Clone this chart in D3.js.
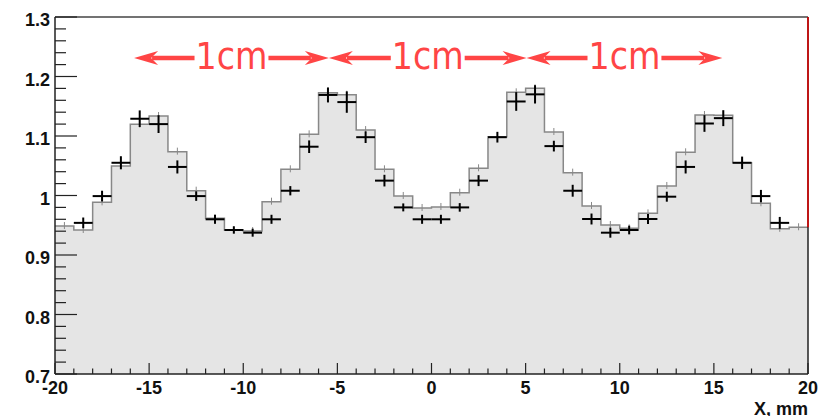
<!DOCTYPE html>
<html>
<head>
<meta charset="utf-8">
<script src="https://cdn.jsdelivr.net/npm/d3@7"></script>
<style>
body { margin: 0; background: #fff; }
svg { display: block; }
</style>
</head>
<body>
<div id="chart"></div>
<script>
// histogram contents, one value per 1 mm bin from -20 to 20
const histValues = [0.9487, 0.942, 0.9885, 1.0496, 1.1196, 1.1336, 1.0737, 1.0081, 0.9616, 0.942,
  0.9403, 0.9896, 1.044, 1.1028, 1.1728, 1.1694, 1.11, 1.044, 0.9992, 0.979,
  0.9807, 1.0047, 1.0457, 1.0989, 1.1734, 1.1802, 1.1067, 1.0384, 0.9824, 0.9504,
  0.9448, 0.970, 1.016, 1.0726, 1.1353, 1.135, 1.0551, 0.9869, 0.944, 0.9466];

// measured points (crosses)
const pointX = [-18.5, -17.5, -16.5, -15.5, -14.5, -13.5, -12.5, -11.5, -10.5, -9.5,
  -8.5, -7.5, -6.5, -5.5, -4.5, -3.5, -2.5, -1.5, -0.5, 0.5,
  1.5, 2.5, 3.5, 4.5, 5.5, 6.5, 7.5, 8.5, 9.5, 10.5,
  11.5, 12.5, 13.5, 14.5, 15.5, 16.5, 17.5, 18.5];
const pointY = [0.954, 0.999, 1.055, 1.129, 1.120, 1.048, 0.999, 0.960, 0.942, 0.9375,
  0.960, 1.008, 1.082, 1.169, 1.157, 1.098, 1.025, 0.980, 0.960, 0.960,
  0.980, 1.025, 1.098, 1.158, 1.170, 1.083, 1.008, 0.9605, 0.9375, 0.942,
  0.9605, 0.998, 1.048, 1.121, 1.130, 1.055, 0.999, 0.954];
const pointErr = [0.009, 0.009, 0.011, 0.014, 0.015, 0.011, 0.008, 0.0076, 0.0062, 0.0067,
  0.0076, 0.0078, 0.0106, 0.0126, 0.018, 0.0098, 0.0098, 0.0067, 0.0076, 0.0076,
  0.0072, 0.0092, 0.009, 0.0157, 0.0154, 0.009, 0.010, 0.0092, 0.0084, 0.0073,
  0.0084, 0.0084, 0.011, 0.014, 0.0134, 0.0104, 0.0104, 0.010];

// "1cm" arrows: end points in mm
const arrowEnds = [-15.8, -5.45, 5.05, 15.45];
const arrowLabel = "1cm";
const arrowLevel = 1.231;

const xTicks = [-20, -15, -10, -5, 0, 5, 10, 15, 20];
const yTicks = [0.7, 0.8, 0.9, 1, 1.1, 1.2, 1.3];
const xTitle = "X, mm";

const width = 830, height = 416;
const margin = {top: 17, right: 22, bottom: 42, left: 55};
const binWidth = 1;

const svg = d3.select("#chart").append("svg")
  .attr("width", width)
  .attr("height", height);

const x = d3.scaleLinear().domain([-20, 20]).range([margin.left, width - margin.right]);
const y = d3.scaleLinear().domain([0.7, 1.3]).range([height - margin.bottom, margin.top]);

const red = "#ff4545";

// histogram
const edges = histValues.map(function(v, i) { return {x: -20 + i * binWidth, v: v}; });
edges.push({x: 20, v: histValues[histValues.length - 1]});

svg.append("path")
  .datum(edges)
  .attr("fill", "#e5e5e5")
  .attr("d", d3.area().curve(d3.curveStepAfter)
    .x(function(d) { return x(d.x); })
    .y0(y(0.7))
    .y1(function(d) { return y(d.v); }));

svg.append("path")
  .datum(edges)
  .attr("fill", "none")
  .attr("stroke", "#888")
  .attr("stroke-width", 1.5)
  .attr("d", d3.line().curve(d3.curveStepAfter)
    .x(function(d) { return x(d.x); })
    .y(function(d) { return y(d.v); }));

// small histogram error ticks
svg.append("g").selectAll("line")
  .data(histValues).enter().append("line")
  .attr("x1", function(d, i) { return x(-20 + (i + 0.5) * binWidth); })
  .attr("x2", function(d, i) { return x(-20 + (i + 0.5) * binWidth); })
  .attr("y1", function(d) { return y(d) - 4; })
  .attr("y2", function(d) { return y(d) + 3; })
  .attr("stroke", "#888")
  .attr("stroke-width", 1);

// frame top + right
svg.append("line")
  .attr("x1", x(-20)).attr("x2", x(20))
  .attr("y1", y(1.3)).attr("y2", y(1.3))
  .attr("stroke", "#444").attr("stroke-width", 1.5);
svg.append("line")
  .attr("x1", x(20)).attr("x2", x(20))
  .attr("y1", y(1.3)).attr("y2", y(0.7))
  .attr("stroke", "#222").attr("stroke-width", 1.5);

// axes (ticks pointing inside, ROOT style)
const xMinor = d3.range(-20, 21, 1).filter(function(v) { return v % 5 !== 0; });
const yMinor = d3.range(0.7, 1.3001, 0.02).filter(function(v) { return Math.abs(v * 10 - Math.round(v * 10)) > 0.01; });

const xAxisG = svg.append("g");
xAxisG.append("line")
  .attr("x1", x(-20)).attr("x2", x(20))
  .attr("y1", y(0.7)).attr("y2", y(0.7))
  .attr("stroke", "#222").attr("stroke-width", 1.5);
xAxisG.selectAll(".major").data(xTicks).enter().append("line")
  .attr("x1", function(d) { return x(d); }).attr("x2", function(d) { return x(d); })
  .attr("y1", y(0.7)).attr("y2", y(0.7) - 11)
  .attr("stroke", "#222").attr("stroke-width", 1.2);
xAxisG.selectAll(".minor").data(xMinor).enter().append("line")
  .attr("x1", function(d) { return x(d); }).attr("x2", function(d) { return x(d); })
  .attr("y1", y(0.7)).attr("y2", y(0.7) - 5.5)
  .attr("stroke", "#222").attr("stroke-width", 1.2);
xAxisG.selectAll("text").data(xTicks).enter().append("text")
  .attr("x", function(d) { return x(d); })
  .attr("y", y(0.7) + 19.5)
  .attr("text-anchor", "middle")
  .style("font-family", "'Liberation Sans', Arial, sans-serif")
  .style("font-weight", "bold")
  .style("font-size", "18px")
  .style("fill", "#111")
  .text(function(d) { return d; });

const yAxisG = svg.append("g");
yAxisG.append("line")
  .attr("x1", x(-20)).attr("x2", x(-20))
  .attr("y1", y(0.7)).attr("y2", y(1.3))
  .attr("stroke", "#222").attr("stroke-width", 1.5);
yAxisG.selectAll(".major").data(yTicks).enter().append("line")
  .attr("x1", x(-20)).attr("x2", x(-20) + 22)
  .attr("y1", function(d) { return y(d); }).attr("y2", function(d) { return y(d); })
  .attr("stroke", "#222").attr("stroke-width", 1.2);
yAxisG.selectAll(".minor").data(yMinor).enter().append("line")
  .attr("x1", x(-20)).attr("x2", x(-20) + 11)
  .attr("y1", function(d) { return y(d); }).attr("y2", function(d) { return y(d); })
  .attr("stroke", "#222").attr("stroke-width", 1.2);
yAxisG.selectAll("text").data(yTicks).enter().append("text")
  .attr("x", x(-20) - 5)
  .attr("y", function(d) { return y(d) + 9; })
  .attr("text-anchor", "end")
  .style("font-family", "'Liberation Sans', Arial, sans-serif")
  .style("font-weight", "bold")
  .style("font-size", "18px")
  .style("fill", "#111")
  .text(function(d) { return d; });

svg.append("text")
  .attr("x", x(20))
  .attr("y", 414.5)
  .attr("text-anchor", "end")
  .style("font-family", "'Liberation Sans', Arial, sans-serif")
  .style("font-weight", "bold")
  .style("font-size", "18px")
  .style("fill", "#111")
  .text(xTitle);

// crosses
const pts = pointX.map(function(d, i) { return {x: d, y: pointY[i], e: pointErr[i]}; });
const cross = svg.append("g").selectAll("g").data(pts).enter().append("g");
cross.append("line")
  .attr("x1", function(d) { return x(d.x - binWidth / 2); })
  .attr("x2", function(d) { return x(d.x + binWidth / 2); })
  .attr("y1", function(d) { return y(d.y); })
  .attr("y2", function(d) { return y(d.y); })
  .attr("stroke", "#000").attr("stroke-width", 2);
cross.append("line")
  .attr("x1", function(d) { return x(d.x); })
  .attr("x2", function(d) { return x(d.x); })
  .attr("y1", function(d) { return y(d.y - d.e); })
  .attr("y2", function(d) { return y(d.y + d.e); })
  .attr("stroke", "#000").attr("stroke-width", 2);

// red marker on the right edge, down to the last bin
svg.append("line")
  .attr("x1", x(20)).attr("x2", x(20))
  .attr("y1", y(1.3)).attr("y2", y(histValues[histValues.length - 1]))
  .attr("stroke", "#e00000").attr("stroke-width", 1.5);

// "1cm" arrows
const ay = y(arrowLevel);
function head(px, dir) {
  // dir = -1 for a tip pointing left, +1 for right
  const pts = [[0, 0], [-24, -7], [-17, 0], [-24, 7]].map(function(p) {
    return [px + p[0] * dir, ay + p[1]];
  });
  svg.append("polygon")
    .attr("points", pts.map(function(p) { return p.join(","); }).join(" "))
    .attr("fill", red);
}

for (let i = 0; i < arrowEnds.length - 1; i++) {
  const x0 = x(arrowEnds[i]), x1 = x(arrowEnds[i + 1]);
  const mid = (x0 + x1) / 2;
  const label = svg.append("text")
    .attr("x", mid)
    .attr("y", ay + 10.5)
    .attr("text-anchor", "middle")
    .style("font-family", "'DejaVu Sans Condensed', 'DejaVu Sans', sans-serif")
    .style("font-stretch", "condensed")
    .style("font-size", "37px")
    .style("fill", red)
    .text(arrowLabel);
  const bb = label.node().getBBox();
  svg.append("line")
    .attr("x1", x0 + 18).attr("x2", bb.x - 1)
    .attr("y1", ay).attr("y2", ay)
    .attr("stroke", red).attr("stroke-width", 4.5);
  svg.append("line")
    .attr("x1", bb.x + bb.width + 1).attr("x2", x1 - 18)
    .attr("y1", ay).attr("y2", ay)
    .attr("stroke", red).attr("stroke-width", 4.5);
  head(x0, -1);
  head(x1, 1);
}
</script>
</body>
</html>
